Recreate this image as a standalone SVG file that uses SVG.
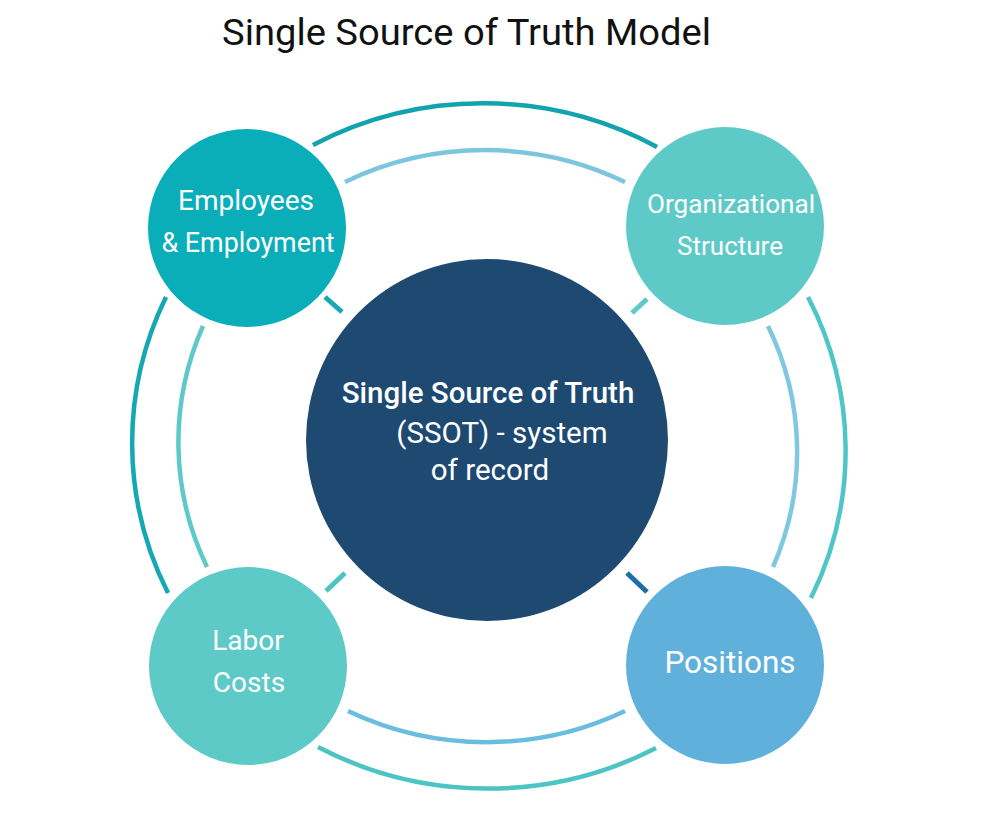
<svg xmlns="http://www.w3.org/2000/svg" width="988" height="834" viewBox="0 0 988 834">
<style>
.t{font-family:Roboto,"Liberation Sans",sans-serif;fill:#ffffff;text-anchor:middle;font-size:28px}
.c{font-size:29.5px}
.s{font-size:26px}
.p{font-size:31.5px}
.ring{fill:none;stroke-width:4.5;stroke-linecap:butt}
.dash{stroke-width:5;stroke-linecap:butt}
</style>
<rect width="988" height="834" fill="#ffffff"/>
<text x="222" y="45" font-family="Roboto,'Liberation Sans',sans-serif" font-size="36" textLength="489" lengthAdjust="spacingAndGlyphs" fill="#111111">Single Source of Truth Model</text>
<g id="connectors">
<path class="ring" d="M 313 145 A 356 343 0 0 1 657 147" stroke="#12a3ae"/>
<path class="ring" d="M 345 182 A 311 298 0 0 1 625 182" stroke="#7cc5df"/>
<path class="ring" d="M 168 593 A 356 343 0 0 1 166 297" stroke="#15a7b2"/>
<path class="ring" d="M 207 567 A 311 298 0 0 1 203 326" stroke="#5fc9c9"/>
<path class="ring" d="M 808 297 A 356 343 0 0 1 811 598" stroke="#4fc5c8"/>
<path class="ring" d="M 768 326 A 311 298 0 0 1 773 567" stroke="#80c8e0"/>
<path class="ring" d="M 656 748 A 356 343 0 0 1 318 747" stroke="#4dc4c4"/>
<path class="ring" d="M 625 711 A 311 298 0 0 1 348 711" stroke="#6bbde0"/>
<line class="dash" x1="325" y1="297" x2="342" y2="312" stroke="#1aa8b3"/>
<line class="dash" x1="632" y1="313" x2="647" y2="299" stroke="#5ecac8"/>
<line class="dash" x1="326" y1="591" x2="345" y2="573" stroke="#4cc4c4"/>
<line class="dash" x1="627" y1="573" x2="647" y2="592" stroke="#1a6fa8"/>
</g>
<g id="ssot">
<circle cx="487" cy="440" r="181" fill="#1e4a72"/>
<text class="t c" x="488" y="403" font-weight="500">Single Source of Truth</text>
<text class="t c" x="502" y="443">(SSOT) - system</text>
<text class="t c" x="490" y="480">of record</text>
</g>
<g id="employees">
<circle cx="247" cy="228" r="99" fill="#0aaeb8"/>
<text class="t" x="246" y="210">Employees</text>
<text class="t" x="248" y="252" textLength="173" lengthAdjust="spacingAndGlyphs">&amp; Employment</text>
</g>
<g id="org">
<circle cx="725" cy="226" r="99" fill="#5ecac8"/>
<text class="t s" x="731" y="213" textLength="168" lengthAdjust="spacingAndGlyphs">Organizational</text>
<text class="t s" x="730" y="255">Structure</text>
</g>
<g id="labor">
<circle cx="248" cy="666" r="99" fill="#5ecac8"/>
<text class="t" x="248" y="650">Labor</text>
<text class="t" x="249" y="692">Costs</text>
</g>
<g id="positions">
<circle cx="725" cy="665" r="99" fill="#5fb1dc"/>
<text class="t p" x="730" y="673">Positions</text>
</g>
</svg>
